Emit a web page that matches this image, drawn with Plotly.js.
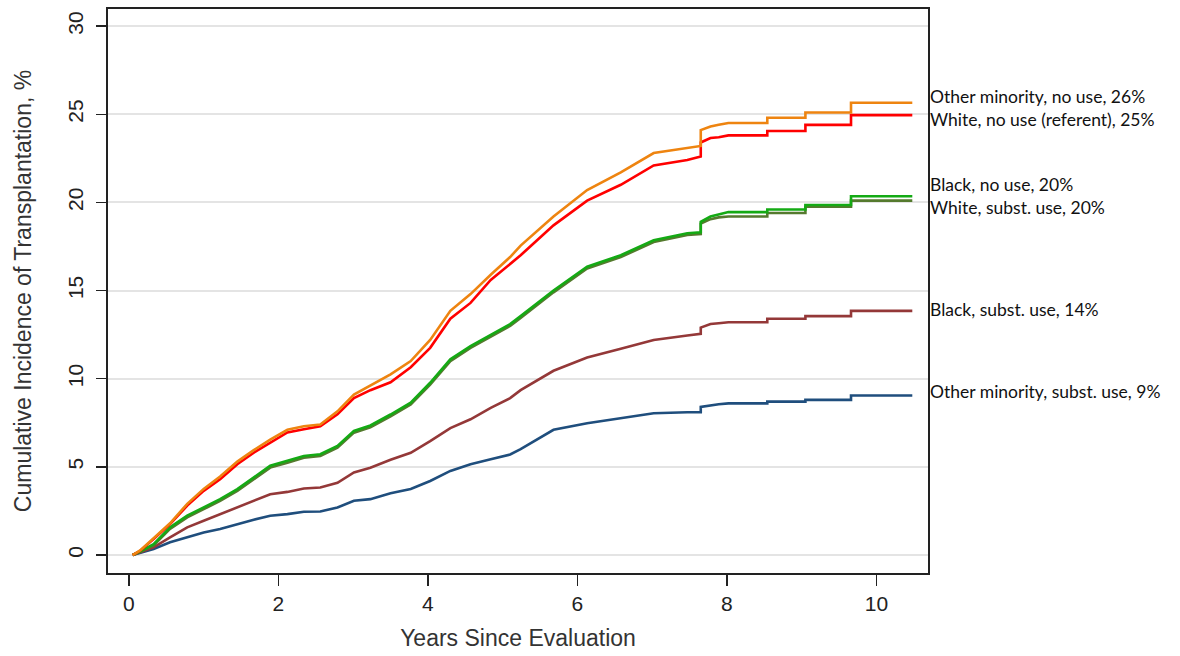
<!DOCTYPE html>
<html>
<head>
<meta charset="utf-8">
<script src="https://cdn.plot.ly/plotly-3.0.1.min.js"></script>
<style>
html,body{margin:0;padding:0;background:#fff;}
#chart{width:1180px;height:656px;}
</style>
</head>
<body>
<div id="chart"></div>
<script>
// Years since evaluation (repeated values mark vertical steps in the tail)
const years = [0.05, 0.15, 0.33, 0.55, 0.78, 1.0, 1.22, 1.45, 1.67, 1.89, 2.12, 2.34, 2.56, 2.79, 3.01, 3.23, 3.5, 3.77, 4.03, 4.3, 4.57, 4.84, 5.1, 5.24, 5.68, 6.13, 6.58, 7.02, 7.47, 7.65, 7.65, 7.78, 7.89, 8.02, 8.54, 8.54, 9.05, 9.05, 9.66, 9.66, 10.48];

const otherNoUse = [0, 0.26, 0.95, 1.8, 2.9, 3.75, 4.45, 5.3, 5.95, 6.55, 7.1, 7.3, 7.4, 8.15, 9.1, 9.6, 10.25, 11.0, 12.2, 13.85, 14.8, 15.9, 16.9, 17.55, 19.2, 20.7, 21.7, 22.8, 23.1, 23.2, 24.1, 24.3, 24.4, 24.5, 24.5, 24.8, 24.8, 25.1, 25.1, 25.65, 25.65];
const whiteNoUse = [0, 0.24, 0.9, 1.75, 2.8, 3.64, 4.3, 5.15, 5.8, 6.38, 6.95, 7.13, 7.3, 7.98, 8.9, 9.35, 9.8, 10.65, 11.75, 13.4, 14.3, 15.6, 16.5, 17.0, 18.7, 20.1, 21.0, 22.1, 22.4, 22.6, 23.4, 23.65, 23.7, 23.8, 23.8, 24.05, 24.05, 24.4, 24.4, 24.95, 24.95];
const blackNoUse = [0, 0.2, 0.62, 1.57, 2.23, 2.7, 3.17, 3.74, 4.4, 5.06, 5.34, 5.62, 5.72, 6.19, 7.04, 7.35, 7.97, 8.64, 9.77, 11.1, 11.85, 12.5, 13.1, 13.55, 15.0, 16.35, 17.0, 17.85, 18.25, 18.3, 18.9, 19.2, 19.3, 19.45, 19.45, 19.6, 19.6, 19.85, 19.85, 20.35, 20.35];
const whiteSubst = [0, 0.18, 0.55, 1.48, 2.13, 2.6, 3.07, 3.64, 4.3, 4.96, 5.24, 5.52, 5.62, 6.09, 6.94, 7.25, 7.87, 8.54, 9.67, 11.0, 11.75, 12.4, 13.0, 13.45, 14.9, 16.25, 16.9, 17.75, 18.15, 18.2, 18.8, 19.05, 19.15, 19.2, 19.2, 19.4, 19.4, 19.75, 19.75, 20.1, 20.1];
const blackSubst = [0, 0.15, 0.43, 1.0, 1.57, 1.94, 2.32, 2.7, 3.08, 3.45, 3.58, 3.77, 3.83, 4.1, 4.68, 4.95, 5.4, 5.8, 6.46, 7.2, 7.7, 8.35, 8.9, 9.35, 10.45, 11.2, 11.7, 12.2, 12.45, 12.55, 12.9, 13.1, 13.15, 13.2, 13.2, 13.4, 13.4, 13.55, 13.55, 13.85, 13.85];
const otherSubst = [0, 0.12, 0.34, 0.72, 1.0, 1.28, 1.47, 1.75, 2.0, 2.23, 2.32, 2.45, 2.47, 2.7, 3.08, 3.17, 3.5, 3.75, 4.2, 4.77, 5.15, 5.43, 5.7, 6.0, 7.1, 7.47, 7.76, 8.04, 8.1, 8.1, 8.4, 8.5, 8.55, 8.6, 8.6, 8.7, 8.7, 8.8, 8.8, 9.05, 9.05];

const seriesNames = ["Other minority, subst. use, 9%", "Black, subst. use, 14%", "White, subst. use, 20%", "Black, no use, 20%", "White, no use (referent), 25%", "Other minority, no use, 26%"];
const seriesValues = [otherSubst, blackSubst, whiteSubst, blackNoUse, whiteNoUse, otherNoUse];
const seriesColors = ["#1f4e7d", "#943838", "#557a2e", "#14aa14", "#ff0000", "#ee8410"];

// label anchor values (y, in %) for end-of-line labels
const labelY = [9.25, 13.9, 19.7, 21.0, 24.72, 26.02];

const xTicks = [0, 2, 4, 6, 8, 10];
const yTicks = [0, 5, 10, 15, 20, 25, 30];

const traces = seriesValues.map((vals, i) => ({
  type: 'scatter',
  mode: 'lines',
  x: years,
  y: vals,
  name: seriesNames[i],
  line: {color: seriesColors[i], width: 2.6, shape: 'linear'},
  hoverinfo: 'x+y+name'
}));

const annotations = seriesNames.map((t, i) => ({
  text: t,
  xref: 'paper', x: 1, xanchor: 'left', xshift: 1,
  yref: 'y', y: labelY[i], yanchor: 'middle',
  showarrow: false, borderpad: 0,
  font: {family: 'Lato, "Open Sans", sans-serif', size: 17.5, color: '#111'}
}));

const axisFont = {family: '"Liberation Sans", Arial, sans-serif', size: 21, color: '#222'};
const titleFont = {family: '"Liberation Sans", Arial, sans-serif', size: 23, color: '#333'};

const layout = {
  width: 1180, height: 656,
  margin: {l: 108, r: 252, t: 9, b: 83, pad: 0},
  paper_bgcolor: '#fff', plot_bgcolor: '#fff',
  showlegend: false,
  xaxis: {
    range: [-0.28, 10.69],
    tickvals: xTicks, ticktext: xTicks.map(String),
    ticks: 'outside', ticklen: 11, tickwidth: 1.5, tickcolor: '#222',
    showline: true, linecolor: '#222', linewidth: 2, mirror: true,
    showgrid: false, zeroline: false,
    tickfont: axisFont,
    automargin: false,
    title: {text: 'Years Since Evaluation', font: titleFont, standoff: 16}
  },
  yaxis: {
    range: [-1.02, 30.97],
    tickvals: yTicks, ticktext: yTicks.map(String),
    tickangle: -90,
    ticklabelstandoff: 5,
    ticks: 'outside', ticklen: 10, tickwidth: 1.5, tickcolor: '#222',
    showline: true, linecolor: '#222', linewidth: 2, mirror: true,
    showgrid: true, gridcolor: '#e4e4e4', gridwidth: 2,
    zeroline: true, zerolinecolor: '#e4e4e4', zerolinewidth: 2,
    tickfont: axisFont,
    automargin: false,
    title: {text: 'Cumulative Incidence of Transplantation, %', font: titleFont, standoff: 26}
  },
  annotations: annotations
};

Plotly.newPlot('chart', traces, layout, {displayModeBar: false, staticPlot: true});
</script>
</body>
</html>
